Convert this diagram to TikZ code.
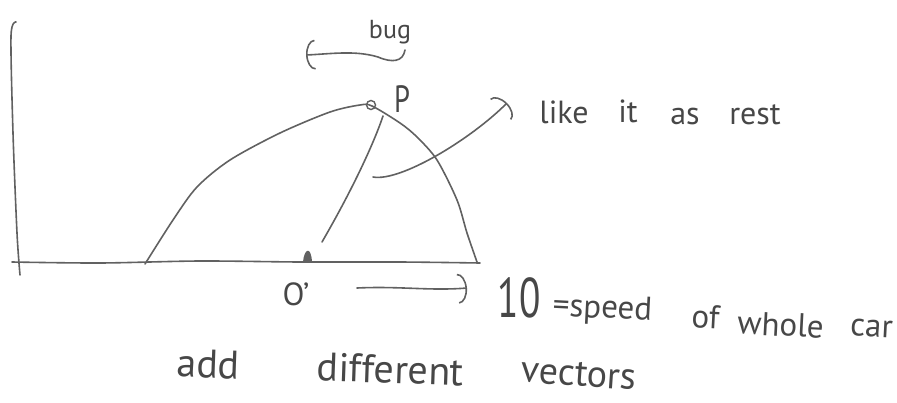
\documentclass[tikz,border=0pt]{standalone}
\usepackage{graphicx}
\usepackage{fontspec}
\setmainfont{PT Sans}
\usetikzlibrary{arrows.meta}
\begin{document}
\begin{tikzpicture}[x=1pt,y=-1pt,
  pen/.style={draw=black!62, line width=1.6pt, line cap=round, line join=round},
  ink/.style={text=black!72, inner sep=0pt, anchor=base},
  barb/.style={-{Arc Barb[length=9pt,width=30pt]}},
  fsbug/.style={font=\fontsize{26}{26}\selectfont},
  fsmid/.style={font=\fontsize{32}{32}\selectfont},
  fsnote/.style={font=\fontsize{33}{33}\selectfont},
  fsbig/.style={font=\fontsize{40}{40}\selectfont}]
\useasboundingbox (0,0) rectangle (897,402);

% axes
\draw[pen] plot[smooth] coordinates {(16,22) (11,36) (13,133) (17,233) (20,275)};
\draw[pen] plot[smooth] coordinates {(12,262) (100,263) (200,261) (300,262) (400,262) (480,263)};

% main curve
\draw[pen] plot[smooth] coordinates {(145,264) (173,220) (197,187) (230,160) (280,133) (330,112) (360,105) (372,106) (400,123) (417,137) (437,160) (457,200) (467,233) (477,262)};

% point P
\node[draw=black!62, line width=1.4pt, circle, minimum size=9pt, inner sep=0pt] (pdot) at (371,105) {};
\node[ink, font=\fontsize{38}{38}\selectfont] (P) at (402,112) {\scalebox{0.75}[1]{P}};

% bug label and arrow
\node[ink, fsbug] (bug) at (390,38) {bug};
\coordinate (bugfrom) at (405,50);
\coordinate (bugto) at (306,55);
\draw[pen, barb] (bugfrom) .. controls (403,62) and (392,63) .. (378,57) .. controls (355,50) and (330,54) .. (bugto);

% chord from P down toward O'
\coordinate (chordtop) at (383,116);
\coordinate (chordend) at (322,242);
\draw[pen] (chordtop) .. controls (375,140) and (355,185) .. (chordend);

% tick at O'
\fill[black!62] (303,262) .. controls (304,249) and (311,245) .. (312,262) -- cycle;
\node[ink, fsmid] (Oprime) at (296,305) {O'};

% pointer to "like it as rest"
\coordinate (ptrstart) at (373,177);
\coordinate (ptrend) at (507,103);
\draw[pen, barb] (ptrstart) .. controls (400,182) and (470,140) .. (ptrend);
\node[ink, fsmid] (like) at (564,123) {like};
\node[ink, fsmid] (it) at (628,122) {it};
\node[ink, fsmid] (as) at (685,124) {as};
\node[ink, fsmid] (rest) at (755,124) {rest};

% velocity arrow and label
\coordinate (vfrom) at (357,288);
\coordinate (vto) at (467,288);
\draw[pen, barb] (vfrom) .. controls (400,286) and (430,291) .. (vto);
\node[ink, font=\fontsize{56}{56}\selectfont] (ten) at (519,317) {\scalebox{0.7}[1]{10}};
\node[ink, fsnote, rotate=-3] (speed) at (602,318) {=speed};
\node[ink, fsnote, rotate=-3] (of) at (705,328) {of};
\node[ink, fsnote, rotate=-3] (whole) at (780,336) {whole};
\node[ink, fsnote, rotate=-3] (car) at (871,337) {car};

% bottom line
\node[ink, fsbig, rotate=-2] (add) at (208,378) {add};
\node[ink, fsbig, rotate=-2] (different) at (390,383) {different};
\node[ink, font=\fontsize{38}{38}\selectfont, rotate=-4] (vectors) at (578,386) {vectors};
\end{tikzpicture}
\end{document}
